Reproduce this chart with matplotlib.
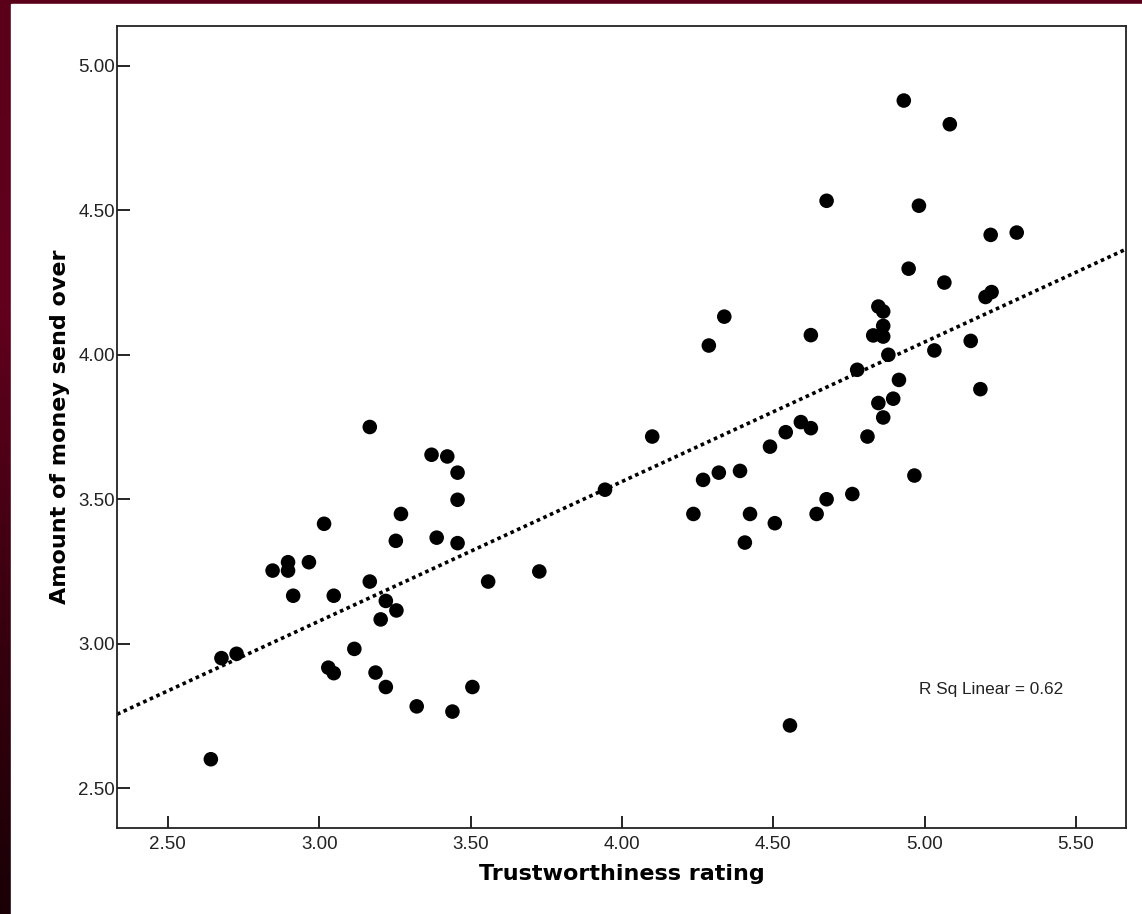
import numpy as np
import matplotlib
matplotlib.use("Agg")
import matplotlib.pyplot as plt
from matplotlib.colors import LinearSegmentedColormap

# trustworthiness rating (x) and amount of money sent over (y), one pair per face
trust = [3.167, 3.371, 3.423, 3.457, 3.457, 3.270, 3.016, 3.253, 3.388, 3.457,
         2.897, 2.966, 2.846, 2.897, 3.167, 3.558, 3.727, 2.914, 3.048, 3.220,
         3.255, 3.203, 3.116, 2.677, 2.727, 3.030, 3.048, 3.186, 3.220, 3.506,
         3.322, 3.440, 2.642,
         3.944, 4.100,
         4.338, 4.287, 4.624, 4.847, 4.863, 4.863, 4.830, 4.863, 4.880, 4.777,
         4.847, 4.863, 4.811, 4.489, 4.541, 4.591, 4.624, 4.268, 4.320, 4.390,
         4.236, 4.423, 4.505, 4.643, 4.676, 4.761, 4.406, 4.555, 4.966, 4.931,
         5.083, 4.676, 4.981, 5.218, 5.304, 4.947, 5.065, 5.201, 5.221, 5.032,
         5.152, 4.915, 4.896, 5.184]
money = [3.750, 3.654, 3.648, 3.592, 3.498, 3.449, 3.415, 3.356, 3.367, 3.348,
         3.282, 3.282, 3.253, 3.253, 3.215, 3.215, 3.250, 3.166, 3.166, 3.148,
         3.115, 3.084, 2.982, 2.950, 2.965, 2.917, 2.898, 2.900, 2.850, 2.850,
         2.783, 2.765, 2.600,
         3.533, 3.717,
         4.132, 4.032, 4.068, 4.167, 4.150, 4.100, 4.067, 4.063, 4.000, 3.948,
         3.833, 3.783, 3.717, 3.682, 3.732, 3.767, 3.746, 3.567, 3.592, 3.598,
         3.449, 3.449, 3.417, 3.449, 3.500, 3.518, 3.350, 2.717, 3.582, 4.880,
         4.798, 4.533, 4.516, 4.415, 4.423, 4.298, 4.250, 4.200, 4.217, 4.015,
         4.048, 3.913, 3.848, 3.881]

xticks = [2.5, 3.0, 3.5, 4.0, 4.5, 5.0, 5.5]
yticks = [2.5, 3.0, 3.5, 4.0, 4.5, 5.0]
rsq_text = "R Sq Linear = 0.62"

W, H = 1142, 914
fig = plt.figure(figsize=(W / 100, H / 100), dpi=100)

# maroon slide background, darker towards the bottom
bg = fig.add_axes([0, 0, 1, 1], zorder=-10)
bg.set_axis_off()
grad = np.linspace(0, 1, 256).reshape(-1, 1)
cmap = LinearSegmentedColormap.from_list("slide", ["#5a0019", "#62001e", "#3a0010", "#1a0006"])
bg.imshow(grad, aspect="auto", cmap=cmap, extent=[0, 1, 0, 1], origin="upper")
bg.add_patch(plt.Rectangle((11 / W, 0), 1, 1 - 4 / H, color="white", transform=bg.transAxes))
bg.set_xlim(0, 1)
bg.set_ylim(0, 1)

ax = fig.add_axes([117 / W, 1 - 828 / H, (1126 - 117) / W, (828 - 26) / H])
ax.set_facecolor("white")

ax.scatter(trust, money, s=110, color="black", edgecolors="none", zorder=3)

# least squares fit line across the full x range
slope, icept = np.polyfit(trust, money, 1)
xlo, xhi = 2.332, 5.665
xs = np.array([xlo, xhi])
ax.plot(xs, icept + slope * xs, color="black", lw=2.6, linestyle=(0, (1, 1)),
        dash_capstyle="butt", zorder=2)

ax.set_xlim(xlo, xhi)
ax.set_ylim(2.362, 5.138)
ax.set_xticks(xticks)
ax.set_yticks(yticks)
ax.set_xticklabels([f"{v:.2f}" for v in xticks], family="Liberation Sans", fontsize=13.5, color="#222222")
ax.set_yticklabels([f"{v:.2f}" for v in yticks], family="Liberation Sans", fontsize=13.5, color="#222222")
ax.tick_params(axis="x", direction="in", length=9, width=1.2, pad=6)
ax.tick_params(axis="y", direction="in", length=9, width=1.2, pad=1.5)
for sp in ax.spines.values():
    sp.set_linewidth(1.3)
    sp.set_color("#222222")

ax.set_xlabel("Trustworthiness rating", family="DejaVu Sans", fontweight="bold", fontsize=16, labelpad=8)
ax.set_ylabel("Amount of money send over", family="DejaVu Sans", fontweight="bold", fontsize=16, labelpad=6)

ax.text(4.981, 2.84, rsq_text, family="Liberation Sans", fontsize=12.4, color="#222222",
        ha="left", va="center")

fig.savefig("out.png", dpi=100)
